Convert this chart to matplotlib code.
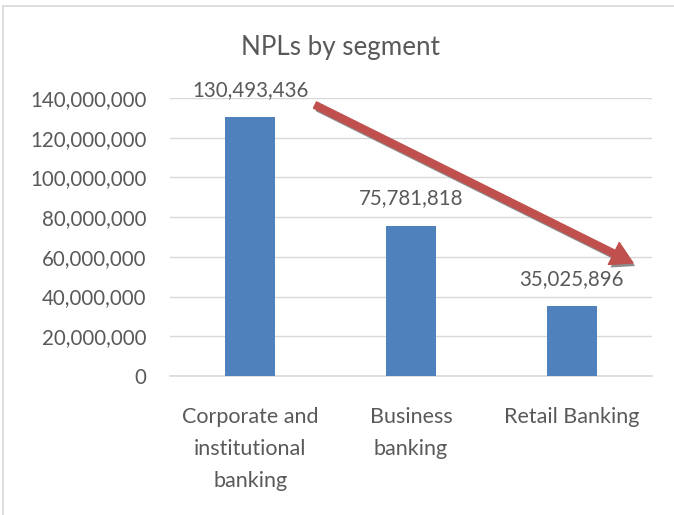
import matplotlib.pyplot as plt
import matplotlib.patheffects as pe

plt.rcParams['font.family'] = ['Lato', 'DejaVu Sans']

segments = ['Corporate and\ninstitutional\nbanking', 'Business\nbanking', 'Retail Banking']
npls = [130493436, 75781818, 35025896]
y_ticks = [0, 20000000, 40000000, 60000000, 80000000, 100000000, 120000000, 140000000]

text_color = '#595959'
grid_color = '#D9D9D9'
bar_color = '#4F81BD'

fig = plt.figure(figsize=(6.74, 5.15), dpi=100)
ax = fig.add_axes([170 / 674, 1 - 376 / 515, 482 / 674, 278 / 515])

x = range(len(segments))
ax.bar(x, npls, width=0.31, color=bar_color, zorder=3)

# value labels above each bar
for xi, v in zip(x, npls):
    ax.annotate(f'{v:,}', (xi, v), xytext=(0, 19.5), textcoords='offset points',
                ha='center', va='center', fontsize=14.8, color=text_color)

ax.set_xlim(-0.5, len(segments) - 0.5)
ax.set_ylim(0, 140000000)
ax.set_yticks(y_ticks)
ax.set_yticklabels([f'{t:,}' for t in y_ticks])
ax.set_xticks(list(x))
ax.set_xticklabels(segments, linespacing=1.75)

ax.tick_params(axis='y', length=0, pad=17, labelsize=14.8, labelcolor=text_color)
ax.tick_params(axis='x', length=0, pad=22, labelsize=15.5, labelcolor=text_color)
ax.grid(axis='y', color=grid_color, linewidth=1, zorder=0)
for side in ['top', 'right', 'left']:
    ax.spines[side].set_visible(False)
ax.spines['bottom'].set_color(grid_color)
ax.spines['bottom'].set_linewidth(1.2)

fig.text(340 / 674, 1 - 48 / 515, 'NPLs by segment', ha='center', va='center',
         fontsize=18.7, color=text_color)

# downward trend arrow with a soft shadow
arrow = ax.annotate('', xy=(633, 515 - 263), xytext=(315, 515 - 105),
                    xycoords='figure pixels', textcoords='figure pixels',
                    arrowprops=dict(arrowstyle='simple,head_length=1.4,head_width=1.6,tail_width=0.45',
                                    color='#C0504D', shrinkA=0, shrinkB=0,
                                    mutation_scale=11))
arrow.arrow_patch.set_path_effects([
    pe.SimplePatchShadow(offset=(1.5, -2.2), shadow_rgbFace='#8C8C8C', alpha=1.0),
    pe.Normal()])

# chart border
fig.add_artist(plt.Line2D([3 / 674, 3 / 674], [0, 1 - 6 / 515], color=grid_color, lw=1.2))
fig.add_artist(plt.Line2D([3 / 674, 1], [1 - 6 / 515, 1 - 6 / 515], color=grid_color, lw=1.2))

fig.savefig('out.png', dpi=100)
